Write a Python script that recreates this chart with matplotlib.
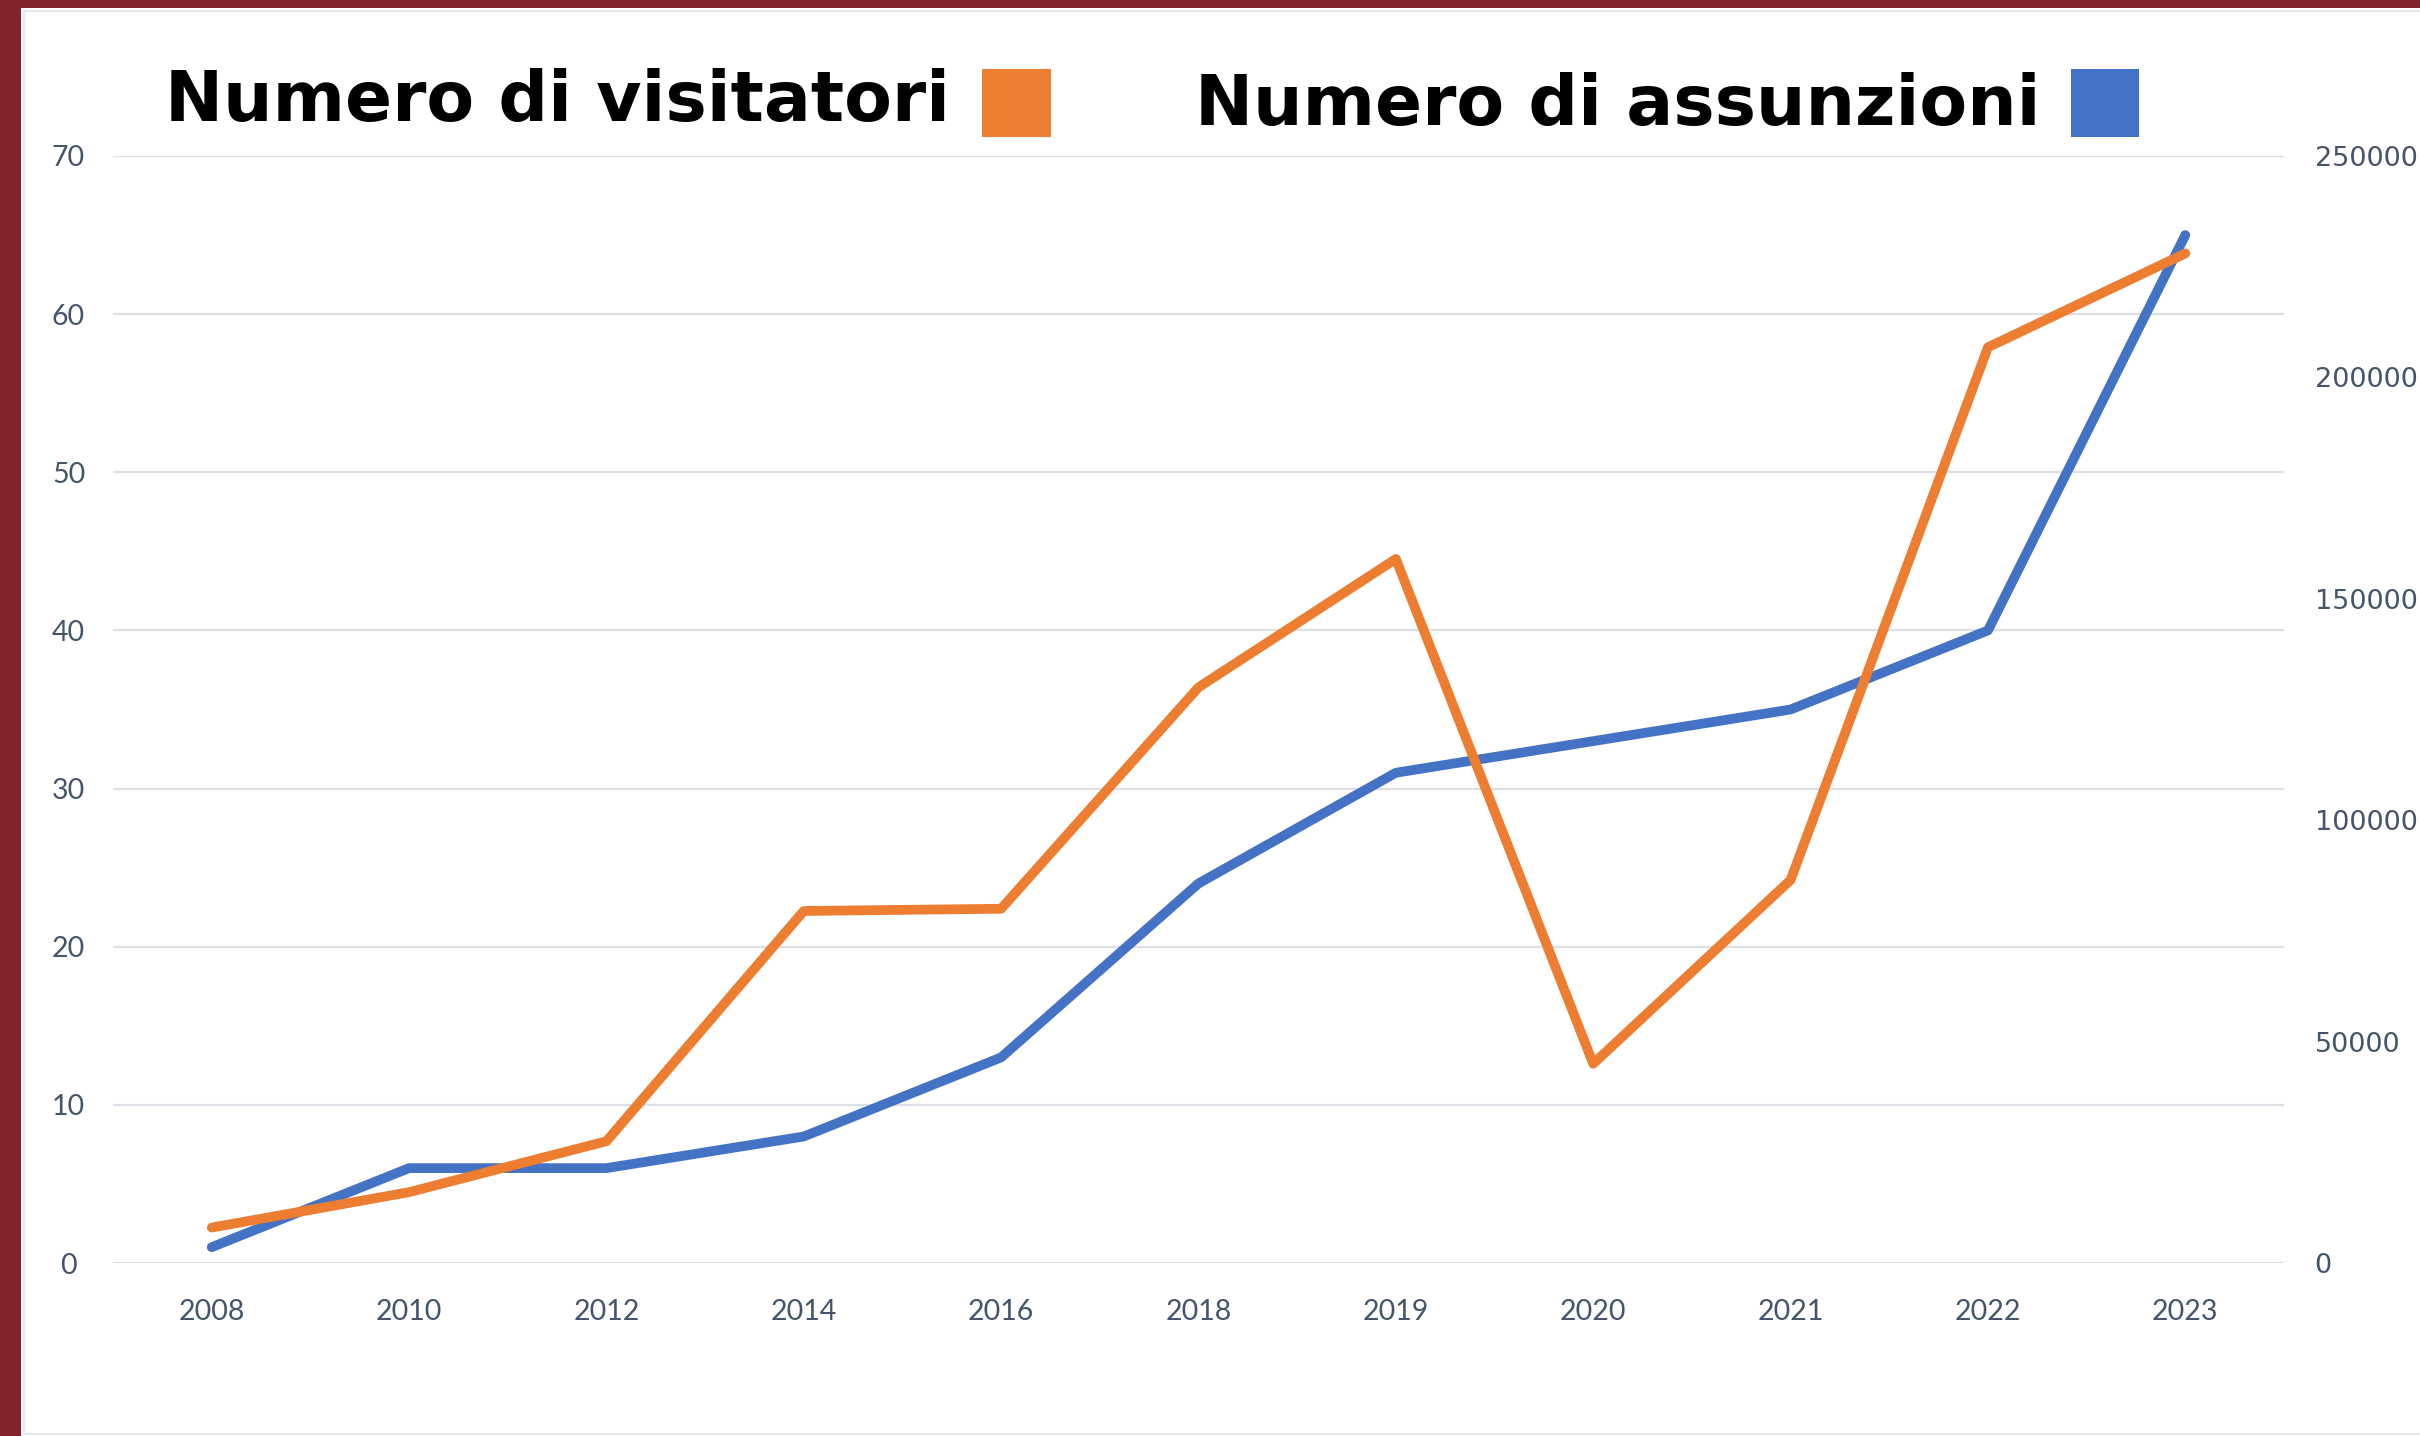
import matplotlib
matplotlib.use("Agg")
import matplotlib.pyplot as plt
from matplotlib.patches import Rectangle

# values
years = ['2008', '2010', '2012', '2014', '2016', '2018', '2019', '2020', '2021', '2022', '2023']
assunzioni = [1, 6, 6, 8, 13, 24, 31, 33, 35, 40, 65]
visitatori = [8000, 16000, 27500, 79500, 80000, 130000, 159000, 45000, 86500, 206800, 228000]
left_ticks = [0, 10, 20, 30, 40, 50, 60, 70]
right_ticks = [0, 50000, 100000, 150000, 200000, 250000]

ORANGE = '#ED7D31'
BLUE = '#4472C4'
TICK_COLOR = '#44546A'
GRID_COLOR = '#DCE0E6'
BORDER_RED = '#80232B'

W, H = 2420, 1436
fig = plt.figure(figsize=(W / 100, H / 100), dpi=100)
fig.patch.set_facecolor('white')

# dark red frame on the left and top, thin grey chart border inside it
fig.patches.append(Rectangle((0, 0), 21 / W, 1, transform=fig.transFigure,
                             facecolor=BORDER_RED, edgecolor='none', zorder=5))
fig.patches.append(Rectangle((0, 1 - 8 / H), 1, 8 / H, transform=fig.transFigure,
                             facecolor=BORDER_RED, edgecolor='none', zorder=5))
fig.patches.append(Rectangle((24 / W, 2 / H), 1.0, 1 - 13 / H, transform=fig.transFigure,
                             facecolor='none', edgecolor='#E3E6EC', lw=1.5, zorder=4))

left, right = 113 / W, 2284 / W
bottom, top = 1 - 1263 / H, 1 - 156 / H
ax = fig.add_axes([left, bottom, right - left, top - bottom])
ax2 = ax.twinx()

x = list(range(len(years)))
ax.plot(x, assunzioni, color=BLUE, lw=7, solid_capstyle='round', solid_joinstyle='round')
ax2.plot(x, visitatori, color=ORANGE, lw=7, solid_capstyle='round', solid_joinstyle='round')

ax.set_xlim(-0.5, len(years) - 0.5)
ax.set_ylim(0, 70)
ax2.set_ylim(0, 250000)

ax.set_xticks(x)
ax.set_xticklabels(years)
ax.set_yticks(left_ticks)
ax2.set_yticks(right_ticks)
ax2.set_yticklabels([str(v) for v in right_ticks])

ax.yaxis.grid(True, color=GRID_COLOR, lw=1.6)
ax.set_axisbelow(True)
for a in (ax, ax2):
    for s in a.spines.values():
        s.set_visible(False)

ax.tick_params(axis='x', length=0, pad=26, labelsize=20.5, labelcolor=TICK_COLOR)
ax.tick_params(axis='y', length=0, pad=32, labelsize=20.5, labelcolor=TICK_COLOR)
ax2.tick_params(axis='y', length=0, pad=22, labelsize=19.5, labelcolor=TICK_COLOR)
for lbl in ax.get_xticklabels() + ax.get_yticklabels():
    lbl.set_family('Lato')
for lbl in ax.get_yticklabels():
    lbl.set_horizontalalignment('center')
for lbl in ax2.get_yticklabels():
    lbl.set_family('DejaVu Sans')

# legend-like header with coloured squares
fig.text(165 / W, 1 - 102 / H, 'Numero di visitatori', fontsize=50, fontweight='bold',
         family='DejaVu Sans', ha='left', va='center', color='black')
fig.patches.append(Rectangle((982 / W, 1 - 137 / H), 69 / W, 68 / H, transform=fig.transFigure,
                             facecolor=ORANGE, edgecolor='none'))
fig.text(1195 / W, 1 - 105 / H, 'Numero di assunzioni', fontsize=50, fontweight='bold',
         family='DejaVu Sans', ha='left', va='center', color='black')
fig.patches.append(Rectangle((2071 / W, 1 - 137 / H), 68 / W, 68 / H, transform=fig.transFigure,
                             facecolor=BLUE, edgecolor='none'))

fig.savefig('out.png', dpi=100, facecolor=fig.get_facecolor())
